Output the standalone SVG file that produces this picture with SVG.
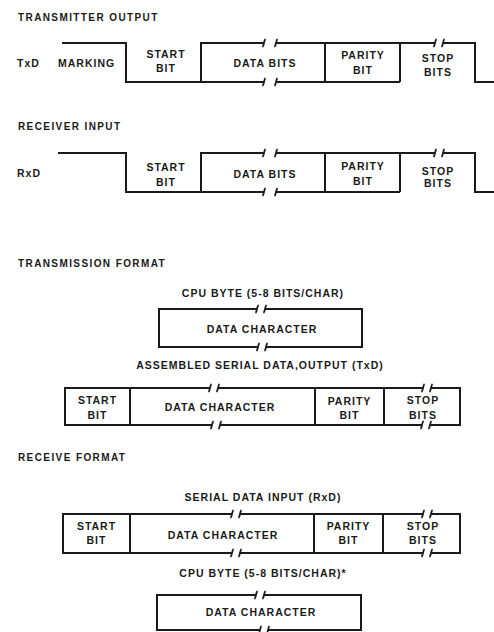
<svg xmlns="http://www.w3.org/2000/svg" xmlns:xlink="http://www.w3.org/1999/xlink" width="494" height="632" viewBox="0 0 494 632">
<style>
text{font-family:"Liberation Sans",Arial,sans-serif;font-weight:bold;fill:#1a1a1a;font-size:10.5px;letter-spacing:1px}
.ti{font-size:10px;letter-spacing:1.4px}
.c{text-anchor:middle}
.ln{fill:none;stroke:#1a1a1a;stroke-width:2}
.tk{fill:none;stroke:#1a1a1a;stroke-width:1.8}
</style>
<defs>
<g id="bw"><rect x="-6" y="-2.5" width="12" height="5" fill="#fff"/><path class="tk" d="M-7.5,4 C-6,3 -6,-3 -4.5,-4 M4.5,4 C6,3 6,-3 7.5,-4"/></g>
<g id="bn"><rect x="-4" y="-2.5" width="8" height="5" fill="#fff"/><path class="tk" d="M-5.5,4 C-4,3 -4,-3 -2.5,-4 M2.5,4 C4,3 4,-3 5.5,-4"/></g>
</defs>
<rect width="494" height="632" fill="#fff"/>

<text class="ti" x="18" y="21">TRANSMITTER OUTPUT</text>
<g id="txd-wave">
<path class="ln" d="M62,43 H126 V82 H400 M201,82 V43 H475 V82 H494 M325,43 V82 M400,43 V82"/>
<use xlink:href="#bw" x="270" y="43"/>
<use xlink:href="#bw" x="270" y="82"/>
<use xlink:href="#bn" x="439" y="43"/>
<text x="17" y="66.5">TxD</text>
<text x="58" y="66.5">MARKING</text>
<text class="c" x="166" y="57.5">START</text>
<text class="c" x="166" y="72">BIT</text>
<text class="c" x="265" y="67">DATA BITS</text>
<text class="c" x="363" y="59">PARITY</text>
<text class="c" x="363" y="74">BIT</text>
<text class="c" x="438" y="62">STOP</text>
<text class="c" x="438" y="76">BITS</text>
</g>

<text class="ti" x="18" y="130">RECEIVER INPUT</text>
<g id="rxd-wave">
<path class="ln" d="M58,153 H126 V192 H400 M201,192 V153 H475 V192 H494 M325,153 V192 M400,153 V192"/>
<use xlink:href="#bw" x="270" y="153"/>
<use xlink:href="#bw" x="270" y="192"/>
<use xlink:href="#bn" x="439" y="153"/>
<text x="17" y="176.5">RxD</text>
<text class="c" x="166" y="171">START</text>
<text class="c" x="166" y="185.5">BIT</text>
<text class="c" x="265" y="178">DATA BITS</text>
<text class="c" x="363" y="170">PARITY</text>
<text class="c" x="363" y="185">BIT</text>
<text class="c" x="438" y="174.5">STOP</text>
<text class="c" x="438" y="186.5">BITS</text>
</g>

<text class="ti" x="18" y="267">TRANSMISSION FORMAT</text>
<g id="cpu-byte-tx">
<text class="c" x="263" y="296.5">CPU BYTE (5-8 BITS/CHAR)</text>
<rect class="ln" x="159" y="309" width="203" height="38"/>
<use xlink:href="#bn" x="261" y="309"/>
<use xlink:href="#bn" x="262" y="347"/>
<text class="c" x="262" y="333">DATA CHARACTER</text>
</g>

<g id="assembled">
<text class="c" x="260" y="369">ASSEMBLED SERIAL DATA,OUTPUT (TxD)</text>
<rect class="ln" x="65" y="388" width="395" height="37"/>
<path class="ln" d="M130,388 V425 M315,388 V425 M384,388 V425"/>
<use xlink:href="#bn" x="214" y="388"/>
<use xlink:href="#bn" x="216" y="425"/>
<use xlink:href="#bn" x="427" y="388"/>
<use xlink:href="#bn" x="426" y="425"/>
<text class="c" x="97.5" y="404">START</text>
<text class="c" x="97.5" y="418.5">BIT</text>
<text class="c" x="220" y="410.5">DATA CHARACTER</text>
<text class="c" x="349.5" y="405">PARITY</text>
<text class="c" x="349.5" y="419">BIT</text>
<text class="c" x="423" y="404">STOP</text>
<text class="c" x="423" y="419">BITS</text>
</g>

<text class="ti" x="18" y="461">RECEIVE FORMAT</text>
<g id="serial-in">
<text class="c" x="263" y="501">SERIAL DATA INPUT (RxD)</text>
<rect class="ln" x="63" y="514" width="397" height="39"/>
<path class="ln" d="M130,514 V553 M314,514 V553 M383,514 V553"/>
<use xlink:href="#bn" x="236" y="514"/>
<use xlink:href="#bn" x="236" y="553"/>
<use xlink:href="#bn" x="427" y="514"/>
<use xlink:href="#bn" x="427" y="553"/>
<text class="c" x="96.5" y="530">START</text>
<text class="c" x="96.5" y="544">BIT</text>
<text class="c" x="223" y="538.5">DATA CHARACTER</text>
<text class="c" x="348.5" y="530">PARITY</text>
<text class="c" x="348.5" y="544">BIT</text>
<text class="c" x="423" y="530">STOP</text>
<text class="c" x="423" y="544">BITS</text>
</g>

<g id="cpu-byte-rx">
<text class="c" x="263" y="576.5">CPU BYTE (5-8 BITS/CHAR)*</text>
<rect class="ln" x="157" y="595" width="204" height="35"/>
<use xlink:href="#bn" x="260" y="595"/>
<use xlink:href="#bn" x="264" y="630"/>
<text class="c" x="261" y="616">DATA CHARACTER</text>
</g>
</svg>
